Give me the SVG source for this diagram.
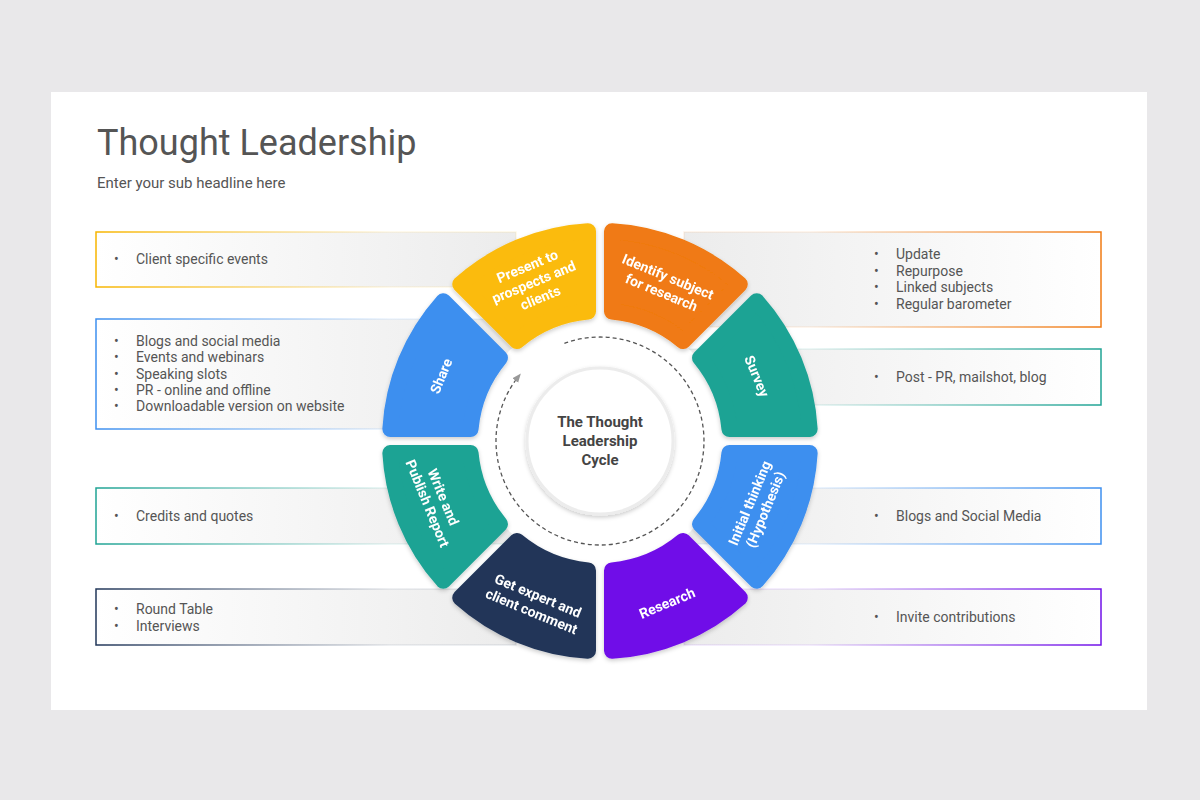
<svg xmlns="http://www.w3.org/2000/svg" width="1200" height="800" viewBox="0 0 1200 800">
<defs>
<style>
.t{font-family:Roboto,"Liberation Sans",sans-serif;fill:#555;font-size:14px}
.seg{stroke-width:16;stroke-linejoin:round}
.lab{font-family:Roboto,"Liberation Sans",sans-serif;fill:#fff;font-size:14px;font-weight:bold;text-anchor:middle}
</style>
<filter id="sh" x="-20%" y="-20%" width="140%" height="140%"><feDropShadow dx="0" dy="2" stdDeviation="2" flood-opacity="0.2"/></filter>
<linearGradient id="fl" x1="0" x2="1"><stop offset="0" stop-color="#fff"/><stop offset="1" stop-color="#ececec"/></linearGradient>
<linearGradient id="fr" x1="1" x2="0"><stop offset="0" stop-color="#fff"/><stop offset="1" stop-color="#ececec"/></linearGradient>
<linearGradient id="lY" x1="0" x2="1"><stop offset="0" stop-color="#F7B500"/><stop offset="0.7" stop-color="#F7B500" stop-opacity="0.1"/></linearGradient>
<linearGradient id="lB" x1="0" x2="1"><stop offset="0" stop-color="#3D8FEF"/><stop offset="0.7" stop-color="#3D8FEF" stop-opacity="0.1"/></linearGradient>
<linearGradient id="lT" x1="0" x2="1"><stop offset="0" stop-color="#1FA394"/><stop offset="0.7" stop-color="#1FA394" stop-opacity="0.1"/></linearGradient>
<linearGradient id="lN" x1="0" x2="1"><stop offset="0" stop-color="#213659"/><stop offset="0.7" stop-color="#213659" stop-opacity="0.1"/></linearGradient>
<linearGradient id="rO" x1="1" x2="0"><stop offset="0" stop-color="#F07A12"/><stop offset="0.7" stop-color="#F07A12" stop-opacity="0.1"/></linearGradient>
<linearGradient id="rT" x1="1" x2="0"><stop offset="0" stop-color="#1FA394"/><stop offset="0.7" stop-color="#1FA394" stop-opacity="0.1"/></linearGradient>
<linearGradient id="rB" x1="1" x2="0"><stop offset="0" stop-color="#3D8FEF"/><stop offset="0.7" stop-color="#3D8FEF" stop-opacity="0.1"/></linearGradient>
<linearGradient id="rP" x1="1" x2="0"><stop offset="0" stop-color="#7010E8"/><stop offset="0.7" stop-color="#7010E8" stop-opacity="0.1"/></linearGradient>
<path id="sp" d="M612,231.34 A210,210 0 0 1 739.76,284.26 L683.04,340.98 A130,130 0 0 0 612.01,311.56 Z"/>
<marker id="ar" viewBox="0 0 10 10" refX="5" refY="5" markerWidth="7" markerHeight="7" orient="auto"><path d="M0,1 L10,5 L0,9 Z" fill="#999"/></marker>
</defs>
<rect width="1200" height="800" fill="#e9e8ea"/>
<rect x="51" y="92" width="1096" height="618" fill="#fff"/>
<text x="97" y="155" style="font-family:Roboto,'Liberation Sans',sans-serif;font-size:36px;fill:#555">Thought Leadership</text>
<text x="97" y="188" class="t" style="font-size:15px">Enter your sub headline here</text>

<g id="boxes">
<g id="box-l1"><rect x="96" y="232" width="420" height="55" fill="url(#fl)" stroke="url(#lY)" stroke-width="1.5"/>
<text class="t"><tspan x="114" y="264">•</tspan><tspan x="136" y="264">Client specific events</tspan></text></g>
<g id="box-l2"><rect x="96" y="319" width="420" height="110" fill="url(#fl)" stroke="url(#lB)" stroke-width="1.5"/>
<text class="t"><tspan x="114" y="346">•</tspan><tspan x="136" y="346">Blogs and social media</tspan><tspan x="114" y="362">•</tspan><tspan x="136" y="362">Events and webinars</tspan><tspan x="114" y="379">•</tspan><tspan x="136" y="379">Speaking slots</tspan><tspan x="114" y="395">•</tspan><tspan x="136" y="395">PR - online and offline</tspan><tspan x="114" y="411">•</tspan><tspan x="136" y="411">Downloadable version on website</tspan></text></g>
<g id="box-l3"><rect x="96" y="488" width="420" height="56" fill="url(#fl)" stroke="url(#lT)" stroke-width="1.5"/>
<text class="t"><tspan x="114" y="521">•</tspan><tspan x="136" y="521">Credits and quotes</tspan></text></g>
<g id="box-l4"><rect x="96" y="589" width="420" height="56" fill="url(#fl)" stroke="url(#lN)" stroke-width="1.5"/>
<text class="t"><tspan x="114" y="614">•</tspan><tspan x="136" y="614">Round Table</tspan><tspan x="114" y="631">•</tspan><tspan x="136" y="631">Interviews</tspan></text></g>
<g id="box-r1"><rect x="684" y="232" width="417" height="95" fill="url(#fr)" stroke="url(#rO)" stroke-width="1.5"/>
<text class="t"><tspan x="874" y="259">•</tspan><tspan x="896" y="259">Update</tspan><tspan x="874" y="276">•</tspan><tspan x="896" y="276">Repurpose</tspan><tspan x="874" y="292">•</tspan><tspan x="896" y="292">Linked subjects</tspan><tspan x="874" y="309">•</tspan><tspan x="896" y="309">Regular barometer</tspan></text></g>
<g id="box-r2"><rect x="684" y="349" width="417" height="56" fill="url(#fr)" stroke="url(#rT)" stroke-width="1.5"/>
<text class="t"><tspan x="874" y="382">•</tspan><tspan x="896" y="382">Post - PR, mailshot, blog</tspan></text></g>
<g id="box-r3"><rect x="684" y="488" width="417" height="56" fill="url(#fr)" stroke="url(#rB)" stroke-width="1.5"/>
<text class="t"><tspan x="874" y="521">•</tspan><tspan x="896" y="521">Blogs and Social Media</tspan></text></g>
<g id="box-r4"><rect x="684" y="589" width="417" height="56" fill="url(#fr)" stroke="url(#rP)" stroke-width="1.5"/>
<text class="t"><tspan x="874" y="622">•</tspan><tspan x="896" y="622">Invite contributions</tspan></text></g>
</g>

<circle cx="600" cy="441" r="128" fill="#fff"/>

<g id="seg-identify" filter="url(#sh)"><use href="#sp" class="seg" fill="#F07A12" stroke="#F07A12"/>
<text class="lab" transform="translate(665,284) rotate(22.5)"><tspan x="0" y="-3">Identify subject</tspan><tspan x="0" y="14">for research</tspan></text></g>
<g id="seg-survey" filter="url(#sh)"><use href="#sp" class="seg" fill="#1FA394" stroke="#1FA394" transform="rotate(45 600 441)"/>
<text class="lab" transform="translate(757,376) rotate(67.5)"><tspan x="0" y="5">Survey</tspan></text></g>
<g id="seg-initial" filter="url(#sh)"><use href="#sp" class="seg" fill="#3D8FEF" stroke="#3D8FEF" transform="rotate(90 600 441)"/>
<text class="lab" transform="translate(757,506) rotate(-67.5)"><tspan x="0" y="-3">Initial thinking</tspan><tspan x="0" y="14">(Hypothesis)</tspan></text></g>
<g id="seg-research" filter="url(#sh)"><use href="#sp" class="seg" fill="#7010E8" stroke="#7010E8" transform="rotate(135 600 441)"/>
<text class="lab" transform="translate(667,603) rotate(-22.5)"><tspan x="0" y="5">Research</tspan></text></g>
<g id="seg-expert" filter="url(#sh)"><use href="#sp" class="seg" fill="#213659" stroke="#213659" transform="rotate(180 600 441)"/>
<text class="lab" transform="translate(535,603) rotate(22.5)"><tspan x="0" y="-3">Get expert and</tspan><tspan x="0" y="14">client comment</tspan></text></g>
<g id="seg-write" filter="url(#sh)"><use href="#sp" class="seg" fill="#1FA394" stroke="#1FA394" transform="rotate(225 600 441)"/>
<text class="lab" transform="translate(436,500) rotate(67.5)"><tspan x="0" y="-3">Write and</tspan><tspan x="0" y="14">Publish Report</tspan></text></g>
<g id="seg-share" filter="url(#sh)"><use href="#sp" class="seg" fill="#3D8FEF" stroke="#3D8FEF" transform="rotate(270 600 441)"/>
<text class="lab" transform="translate(441,376) rotate(-67.5)"><tspan x="0" y="5">Share</tspan></text></g>
<g id="seg-present" filter="url(#sh)"><use href="#sp" class="seg" fill="#FBBB0B" stroke="#FBBB0B" transform="rotate(315 600 441)"/>
<text class="lab" transform="translate(533,280) rotate(-22.5)"><tspan x="0" y="-10">Present to</tspan><tspan x="0" y="7">prospects and</tspan><tspan x="0" y="24">clients</tspan></text></g>

<g id="connectors">
<path d="M564.4,343.3 A104,104 0 1 1 518.05,376.97" fill="none" stroke="#555" stroke-width="1.3" stroke-dasharray="4,3" marker-end="url(#ar)"/>
</g>

<g id="center">
<circle cx="600" cy="441" r="73" fill="#fff" stroke="#ececec" stroke-width="3" filter="url(#sh)"/>
<text style="font-family:Roboto,'Liberation Sans',sans-serif;font-size:15px;font-weight:bold;fill:#444;text-anchor:middle"><tspan x="600" y="427">The Thought</tspan><tspan x="600" y="446">Leadership</tspan><tspan x="600" y="465">Cycle</tspan></text>
</g>
</svg>
